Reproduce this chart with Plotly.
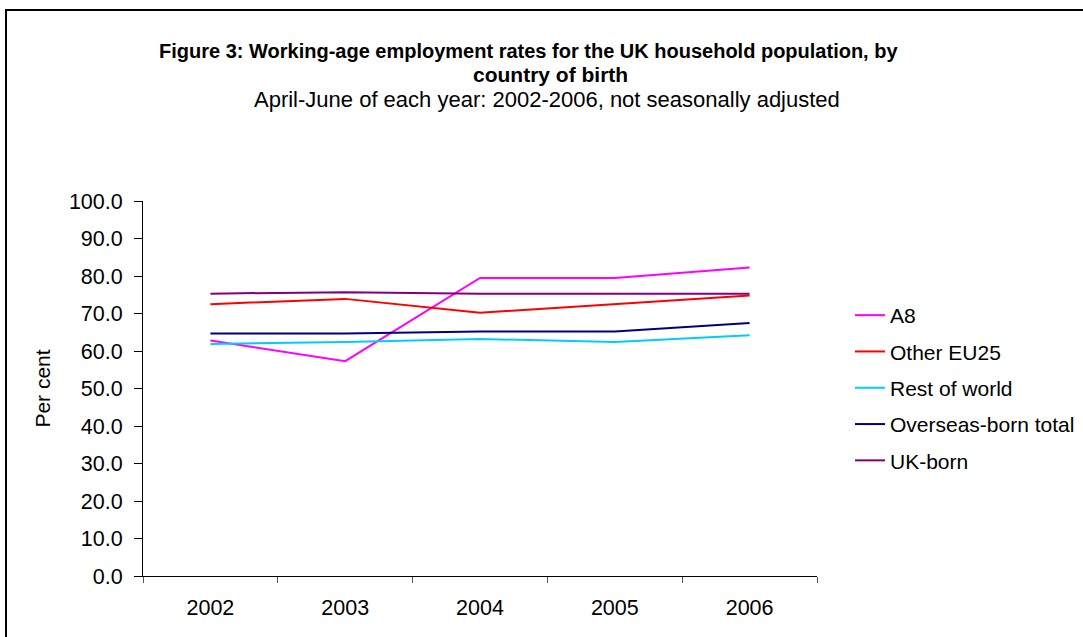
import plotly.graph_objects as go

years = ["2002", "2003", "2004", "2005", "2006"]

a8 = [62.8, 57.3, 79.5, 79.5, 82.3]
other_eu25 = [72.5, 73.9, 70.2, 72.5, 74.8]
rest_of_world = [61.9, 62.4, 63.2, 62.4, 64.2]
overseas_total = [64.7, 64.7, 65.2, 65.2, 67.5]
uk_born = [75.3, 75.7, 75.3, 75.3, 75.3]

series_names = ["A8", "Other EU25", "Rest of world", "Overseas-born total", "UK-born"]
series_values = [a8, other_eu25, rest_of_world, overseas_total, uk_born]
series_colors = ["#FF00FF", "#FF0000", "#00CCFF", "#000080", "#800080"]

title_lines = [
    "Figure 3: Working-age employment rates for the UK household population, by",
    "country of birth",
]
subtitle = "April-June of each year: 2002-2006, not seasonally adjusted"

FONT = "Liberation Sans, Arial, sans-serif"

fig = go.Figure()
for i, (name, vals, col) in enumerate(zip(series_names, series_values, series_colors)):
    fig.add_trace(go.Scatter(
        x=years, y=vals, name=name, mode="lines",
        line=dict(color=col, width=2),
        legendgroup=f"g{i}",
    ))

W, H = 1083, 637
L, R, T, B = 143, 266, 201, 61
pw, ph = W - L - R, H - T - B


def px_x(p):
    return (p - L) / pw


def px_y(p):
    return (H - B - p) / ph


# heading: two bold lines and a plain subtitle over the chart frame
heading = [
    (title_lines[0], True, 20, 528, 51),
    (title_lines[1], True, 21, 550, 75),
    (subtitle, False, 22, 547, 100),
]
annotations = []
for text, bold, size, xpx, ypx in heading:
    annotations.append(dict(
        text=f"<b>{text}</b>" if bold else text,
        xref="paper", yref="paper",
        x=px_x(xpx), y=px_y(ypx), xanchor="center", yanchor="middle",
        showarrow=False, font=dict(family=FONT, size=size, color="black"),
    ))

fig.update_layout(
    width=W, height=H,
    margin=dict(l=L, r=R, t=T, b=B, autoexpand=False),
    paper_bgcolor="white", plot_bgcolor="white",
    font=dict(family=FONT, size=21, color="black"),
    showlegend=True,
    legend=dict(
        xref="container", yref="container",
        x=850 / W, y=1 - 295 / H, xanchor="left", yanchor="top",
        bgcolor="rgba(0,0,0,0)", font=dict(family=FONT, size=21),
        tracegroupgap=6, traceorder="grouped",
    ),
    xaxis=dict(
        type="category", range=[-0.5, 4.5],
        showline=True, linecolor="black", linewidth=1,
        ticks="outside", ticklen=6, tickcolor="#555555", tickson="boundaries",
        ticklabelstandoff=12,
        showgrid=False, zeroline=False,
        tickfont=dict(family=FONT, size=21.5),
    ),
    yaxis=dict(
        range=[0, 100], dtick=10, tickformat=".1f",
        showline=True, linecolor="black", linewidth=1,
        ticks="outside", ticklen=8, tickcolor="black",
        ticklabelstandoff=7,
        showgrid=False, zeroline=False,
        tickfont=dict(family=FONT, size=21.5),
        title=dict(text="Per cent", font=dict(family=FONT, size=21), standoff=12),
    ),
    annotations=annotations,
    shapes=[dict(
        type="rect", xref="paper", yref="paper",
        x0=px_x(6), x1=px_x(1200), y0=px_y(700), y1=px_y(10),
        line=dict(color="black", width=2), fillcolor="rgba(0,0,0,0)", layer="below",
    )],
)

fig.write_html("out.html")
